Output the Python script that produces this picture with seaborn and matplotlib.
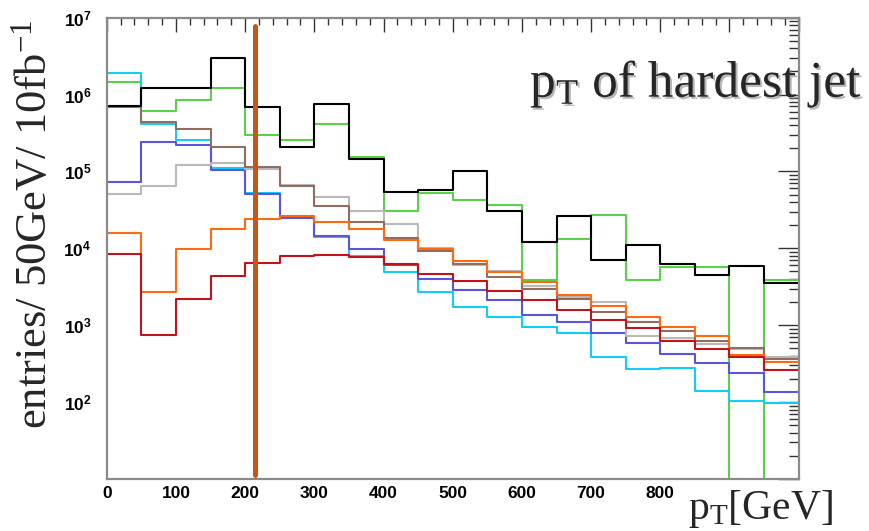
import numpy as np
import pandas as pd
import matplotlib
matplotlib.use("Agg")
import matplotlib.pyplot as plt
import matplotlib.ticker as mticker
import matplotlib.patheffects as pe
import seaborn as sns

# ---------------- data (entries per 50 GeV bin, 0-1000 GeV) ----------------
bin_edges = list(range(0, 1050, 50))
black  = [7.2e5, 1.2e6, 1.2e6, 3.0e6, 6.9e5, 2.1e5, 7.5e5, 1.44e5, 5.4e4, 5.8e4,
          1.02e5, 3.1e4, 1.2e4, 2.6e4, 7.0e3, 1.1e4, 6.3e3, 4.5e3, 5.9e3, 3.5e3]
green  = [1.45e6, 6.1e5, 8.5e5, 1.23e6, 3.0e5, 2.6e5, 4.1e5, 1.53e5, 3.1e4, 5.3e4,
          4.2e4, 3.7e4, 3.9e3, 1.34e4, 2.75e4, 3.9e3, 5.7e3, 5.7e3, 0, 3.9e3]
cyan   = [1.9e6, 4.2e5, 2.56e5, 1.12e5, 5.2e4, 2.56e4, 1.41e4, 7.9e3, 4.9e3, 2.7e3,
          1.75e3, 1.26e3, 9.4e2, 7.85e2, 3.85e2, 2.71e2, 2.8e2, 1.38e2, 1.02e2, 98]
blue   = [7.3e4, 2.4e5, 2.2e5, 1.05e5, 5.1e4, 2.5e4, 1.44e4, 9.9e3, 6.1e3, 4.0e3,
          2.9e3, 2.1e3, 1.35e3, 1.1e3, 7.85e2, 5.83e2, 4.2e2, 3.27e2, 2.38e2, 1.34e2]
grey   = [5.1e4, 6.5e4, 1.22e5, 1.28e5, 1.08e5, 6.7e4, 4.6e4, 3.1e4, 2.08e4, 1.0e4,
          6.1e3, 5.1e3, 3.2e3, 2.3e3, 2.0e3, 7.2e2, 6.8e2, 5.7e2, 4.9e2, 3.85e2]
brown  = [6.9e5, 4.4e5, 3.6e5, 2.1e5, 1.14e5, 6.5e4, 3.6e4, 2.2e4, 1.37e4, 9.2e3,
          6.2e3, 4.2e3, 3.0e3, 2.2e3, 1.47e3, 1.1e3, 8.5e2, 6.2e2, 5.07e2, 3.66e2]
orange = [1.57e4, 2.7e3, 9.9e3, 1.8e4, 2.4e4, 2.6e4, 2.2e4, 1.8e4, 1.3e4, 9.7e3,
          6.8e3, 4.9e3, 3.6e3, 2.5e3, 1.8e3, 1.29e3, 9.6e2, 7.3e2, 4.15e2, 3.37e2]
red    = [8.5e3, 7.5e2, 2.2e3, 4.4e3, 6.5e3, 7.9e3, 8.2e3, 7.7e3, 6.2e3, 4.7e3,
          3.8e3, 2.8e3, 2.1e3, 1.6e3, 1.18e3, 9.1e2, 6.3e2, 4.9e2, 3.85e2, 2.65e2]
cut_value = 214  # GeV, vertical cut line

series_names = ["green", "cyan", "blue", "grey", "brown", "orange", "red", "black"]
series_values = [green, cyan, blue, grey, brown, orange, red, black]
series_colors = ["#5ad04c", "#14cdf5", "#5a55dc", "#b9b9b9", "#8f6e5f",
                 "#ff6a10", "#c0141a", "#000000"]

rows = []
for name, vals in zip(series_names, series_values):
    ext = list(vals) + [vals[-1]]
    for x, y in zip(bin_edges, ext):
        rows.append({"series": name, "pt": x, "entries": y})
df = pd.DataFrame(rows)

# ---------------- style ----------------
sns.set_theme(style="white")
plt.rcParams["font.family"] = ["Liberation Sans", "DejaVu Sans"]
plt.rcParams["mathtext.fontset"] = "custom"
plt.rcParams["mathtext.rm"] = "Liberation Serif"
plt.rcParams["mathtext.it"] = "Liberation Serif:italic"
plt.rcParams["mathtext.bf"] = "Liberation Sans:bold"

fig = plt.figure(figsize=(8.69, 5.31), dpi=100)
ax = fig.add_axes([0.1228, 0.098, 0.7963, 0.8687])

sns.lineplot(data=df, x="pt", y="entries", hue="series",
             hue_order=series_names, palette=dict(zip(series_names, series_colors)),
             estimator=None, drawstyle="steps-post", linewidth=1.5,
             legend=False, ax=ax)

ax.axvline(cut_value, ymin=0.009, ymax=0.983, color="#c4561a", lw=3.6, zorder=5)

ax.set_yscale("log")
ax.set_xlim(0, 1000)
ax.set_ylim(10, 1e7)

ax.xaxis.set_major_locator(mticker.MultipleLocator(100))
ax.xaxis.set_minor_locator(mticker.MultipleLocator(20))
ax.xaxis.set_major_formatter(mticker.FuncFormatter(
    lambda v, p: f"{int(round(v))}" if v <= 800 else ""))
ax.yaxis.set_major_locator(mticker.LogLocator(base=10, numticks=12))
ax.yaxis.set_minor_locator(mticker.LogLocator(base=10, subs=np.arange(2, 10), numticks=12))
ax.yaxis.set_major_formatter(mticker.FuncFormatter(
    lambda v, p: r"$\mathbf{10^{%d}}$" % int(round(np.log10(v))) if v >= 99 else ""))
ax.yaxis.set_minor_formatter(mticker.NullFormatter())

ax.tick_params(which="both", direction="in", top=True, right=True,
               color="#333333", width=1.0)
ax.tick_params(axis="x", which="major", length=10, pad=5)
ax.tick_params(axis="x", which="minor", length=5)
ax.tick_params(axis="y", which="major", length=15, pad=11)
ax.tick_params(axis="y", which="minor", length=7)
for lab in ax.get_xticklabels() + ax.get_yticklabels():
    lab.set_fontweight("bold")
    lab.set_fontsize(12.5)
    lab.set_color("black")

for s in ax.spines.values():
    s.set_color("#8a8a8a")
    s.set_linewidth(1.6)

ax.set_xlabel("")
ax.set_ylabel("")

fig.text(35 / 869, 1 - 224 / 531, r"entries/ 50GeV/ 10fb$^{-1}$",
         family="Liberation Serif", fontsize=32, rotation=90,
         ha="center", va="center")

fig.text(530 / 869, 1 - 97 / 531, r"p$_{\rm T}$ of hardest jet",
         family="Liberation Serif", fontsize=37, ha="left", va="baseline",
         path_effects=[pe.SimplePatchShadow(offset=(1.5, -1.5), shadow_rgbFace="#888888", alpha=0.6),
                       pe.Normal()])

fig.text(688 / 869, 1 - 519 / 531, r"p$_{\rm T}$[GeV]",
         family="Liberation Serif", fontsize=30, ha="left", va="baseline",
         bbox=dict(facecolor="white", edgecolor="none", pad=1.5))

fig.savefig("out.png", dpi=100)
